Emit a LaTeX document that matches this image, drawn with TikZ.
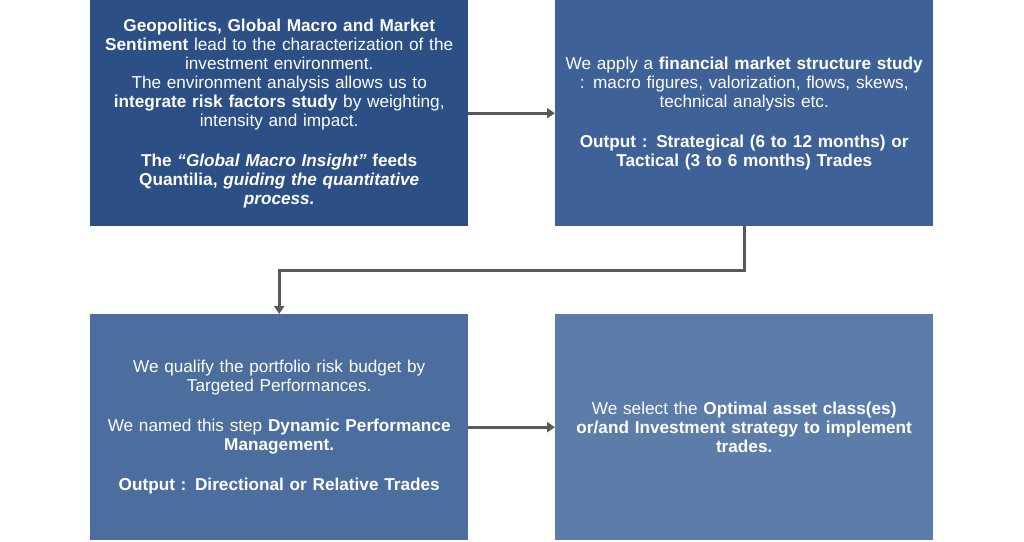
\documentclass[tikz,border=0pt]{standalone}
\usepackage{fontspec}
\setmainfont{Liberation Sans}
\usetikzlibrary{positioning,arrows.meta,calc}
\definecolor{boxa}{HTML}{2C4F86}
\definecolor{boxb}{HTML}{3E6297}
\definecolor{boxc}{HTML}{4B6E9E}
\definecolor{boxd}{HTML}{5C7CAA}
\definecolor{arrowgray}{HTML}{595959}
\tikzset{
  box/.style={anchor=north west, minimum width=378pt, minimum height=226pt, text width=370pt, align=center, text=white, inner sep=0pt},
  link/.style={draw=arrowgray, line width=3pt, -{Triangle[length=8pt,width=10pt]}},
}
\begin{document}
\begin{tikzpicture}[x=1pt, y=-1pt, font=\fontsize{17.2}{19}\selectfont]
\useasboundingbox (0,0) rectangle (1024,541);
\node (geo)   [box, fill=boxa] at (90,0) {\textbf{Geopolitics, Global Macro and Market}\\\textbf{Sentiment} lead to the characterization of the\\investment environment.\\The environment analysis allows us to\\\textbf{integrate risk factors study} by weighting,\\intensity and impact.\\[21pt]\textbf{The \textit{``Global Macro Insight''} feeds}\\\textbf{Quantilia, \textit{guiding the quantitative}}\\\textbf{\textit{process.}}\\[10pt]};
\node (study) [box, fill=boxb] at (555,0) {We apply a \textbf{financial market structure study}\\: macro figures, valorization, flows, skews,\\technical analysis etc.\\[21pt]\textbf{Output : Strategical (6 to 12 months) or}\\\textbf{Tactical (3 to 6 months) Trades}\\[24pt]};
\node (risk)  [box, fill=boxc] at (90,314) {We qualify the portfolio risk budget by\\Targeted Performances.\\[21pt]We named this step \textbf{Dynamic Performance}\\\textbf{Management.}\\[21pt]\textbf{Output : Directional or Relative Trades}};
\node (asset) [box, fill=boxd] at (555,314) {We select the \textbf{Optimal asset class(es)}\\\textbf{or/and Investment strategy to implement}\\\textbf{trades.}\\[12pt]};

% connectors
\coordinate (turn) at ($(study.south)+(0,44)$);
\draw[link] (geo.east) -- (study.west);
\draw[link] (study.south) -- (turn) -| (risk.north);
\draw[link] (risk.east) -- (asset.west);
\end{tikzpicture}
\end{document}
